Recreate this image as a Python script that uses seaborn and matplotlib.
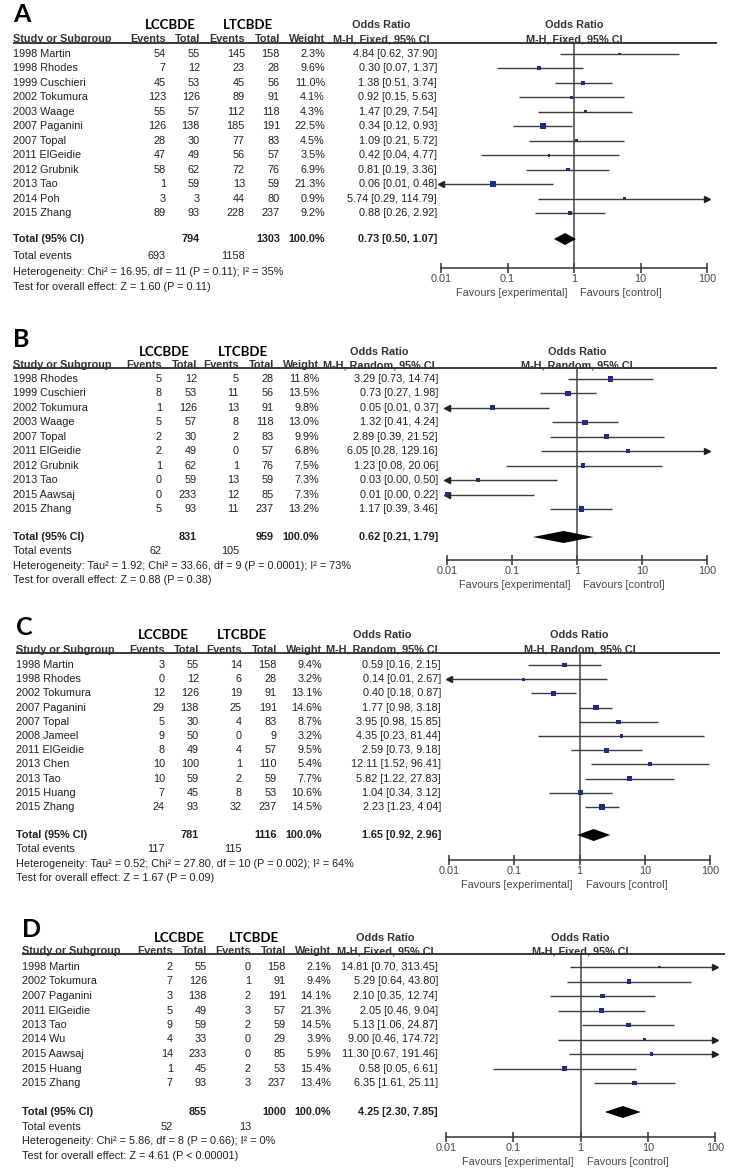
"""Four-panel forest plot (LCCBDE vs LTCBDE)."""
import numpy as np
import matplotlib
matplotlib.use("Agg")
import matplotlib.pyplot as plt
import seaborn as sns

# ---------------- Panel A : M-H, Fixed ----------------
studies_a = ["1998 Martin", "1998 Rhodes", "1999 Cuschieri", "2002 Tokumura", "2003 Waage",
             "2007 Paganini", "2007 Topal", "2011 ElGeidie", "2012 Grubnik", "2013 Tao",
             "2014 Poh", "2015 Zhang"]
ev1_a = [54, 7, 45, 123, 55, 126, 28, 47, 58, 1, 3, 89]
tot1_a = [55, 12, 53, 126, 57, 138, 30, 49, 62, 59, 3, 93]
ev2_a = [145, 23, 45, 89, 112, 185, 77, 56, 72, 13, 44, 228]
tot2_a = [158, 28, 56, 91, 118, 191, 83, 57, 76, 59, 80, 237]
weight_a = [2.3, 9.6, 11.0, 4.1, 4.3, 22.5, 4.5, 3.5, 6.9, 21.3, 0.9, 9.2]
or_a = [4.84, 0.30, 1.38, 0.92, 1.47, 0.34, 1.09, 0.42, 0.81, 0.06, 5.74, 0.88]
lo_a = [0.62, 0.07, 0.51, 0.15, 0.29, 0.12, 0.21, 0.04, 0.19, 0.01, 0.29, 0.26]
hi_a = [37.90, 1.37, 3.74, 5.63, 7.54, 0.93, 5.72, 4.77, 3.36, 0.48, 114.79, 2.92]
totals_a = [794, 1303]
events_a = [693, 1158]
pooled_a = [0.73, 0.50, 1.07]
het_a = "Heterogeneity: Chi² = 16.95, df = 11 (P = 0.11); I² = 35%"
test_a = "Test for overall effect: Z = 1.60 (P = 0.11)"

# ---------------- Panel B : M-H, Random ----------------
studies_b = ["1998 Rhodes", "1999 Cuschieri", "2002 Tokumura", "2003 Waage", "2007 Topal",
             "2011 ElGeidie", "2012 Grubnik", "2013 Tao", "2015 Aawsaj", "2015 Zhang"]
ev1_b = [5, 8, 1, 5, 2, 2, 1, 0, 0, 5]
tot1_b = [12, 53, 126, 57, 30, 49, 62, 59, 233, 93]
ev2_b = [5, 11, 13, 8, 2, 0, 1, 13, 12, 11]
tot2_b = [28, 56, 91, 118, 83, 57, 76, 59, 85, 237]
weight_b = [11.8, 13.5, 9.8, 13.0, 9.9, 6.8, 7.5, 7.3, 7.3, 13.2]
or_b = [3.29, 0.73, 0.05, 1.32, 2.89, 6.05, 1.23, 0.03, 0.01, 1.17]
lo_b = [0.73, 0.27, 0.01, 0.41, 0.39, 0.28, 0.08, 0.00, 0.00, 0.39]
hi_b = [14.74, 1.98, 0.37, 4.24, 21.52, 129.16, 20.06, 0.50, 0.22, 3.46]
totals_b = [831, 959]
events_b = [62, 105]
pooled_b = [0.62, 0.21, 1.79]
het_b = "Heterogeneity: Tau² = 1.92; Chi² = 33.66, df = 9 (P = 0.0001); I² = 73%"
test_b = "Test for overall effect: Z = 0.88 (P = 0.38)"

# ---------------- Panel C : M-H, Random ----------------
studies_c = ["1998 Martin", "1998 Rhodes", "2002 Tokumura", "2007 Paganini", "2007 Topal",
             "2008 Jameel", "2011 ElGeidie", "2013 Chen", "2013 Tao", "2015 Huang", "2015 Zhang"]
ev1_c = [3, 0, 12, 29, 5, 9, 8, 10, 10, 7, 24]
tot1_c = [55, 12, 126, 138, 30, 50, 49, 100, 59, 45, 93]
ev2_c = [14, 6, 19, 25, 4, 0, 4, 1, 2, 8, 32]
tot2_c = [158, 28, 91, 191, 83, 9, 57, 110, 59, 53, 237]
weight_c = [9.4, 3.2, 13.1, 14.6, 8.7, 3.2, 9.5, 5.4, 7.7, 10.6, 14.5]
or_c = [0.59, 0.14, 0.40, 1.77, 3.95, 4.35, 2.59, 12.11, 5.82, 1.04, 2.23]
lo_c = [0.16, 0.01, 0.18, 0.98, 0.98, 0.23, 0.73, 1.52, 1.22, 0.34, 1.23]
hi_c = [2.15, 2.67, 0.87, 3.18, 15.85, 81.44, 9.18, 96.41, 27.83, 3.12, 4.04]
totals_c = [781, 1116]
events_c = [117, 115]
pooled_c = [1.65, 0.92, 2.96]
het_c = "Heterogeneity: Tau² = 0.52; Chi² = 27.80, df = 10 (P = 0.002); I² = 64%"
test_c = "Test for overall effect: Z = 1.67 (P = 0.09)"

# ---------------- Panel D : M-H, Fixed ----------------
studies_d = ["1998 Martin", "2002 Tokumura", "2007 Paganini", "2011 ElGeidie", "2013 Tao",
             "2014 Wu", "2015 Aawsaj", "2015 Huang", "2015 Zhang"]
ev1_d = [2, 7, 3, 5, 9, 4, 14, 1, 7]
tot1_d = [55, 126, 138, 49, 59, 33, 233, 45, 93]
ev2_d = [0, 1, 2, 3, 2, 0, 0, 2, 3]
tot2_d = [158, 91, 191, 57, 59, 29, 85, 53, 237]
weight_d = [2.1, 9.4, 14.1, 21.3, 14.5, 3.9, 5.9, 15.4, 13.4]
or_d = [14.81, 5.29, 2.10, 2.05, 5.13, 9.00, 11.30, 0.58, 6.35]
lo_d = [0.70, 0.64, 0.35, 0.46, 1.06, 0.46, 0.67, 0.05, 1.61]
hi_d = [313.45, 43.80, 12.74, 9.04, 24.87, 174.72, 191.46, 6.61, 25.11]
totals_d = [855, 1000]
events_d = [52, 13]
pooled_d = [4.25, 2.30, 7.85]
het_d = "Heterogeneity: Chi² = 5.86, df = 8 (P = 0.66); I² = 0%"
test_d = "Test for overall effect: Z = 4.61 (P < 0.00001)"

tick_vals = [0.01, 0.1, 1, 10, 100]
tick_labels = ["0.01", "0.1", "1", "10", "100"]

sns.set_theme(style="white")
plt.rcParams["font.family"] = ["Liberation Sans", "DejaVu Sans"]

W, H = 729, 1171
TXT = "#202020"
HDR = "#333333"
GREY = "#474747"
NAVY = "#1e2d82"
FS = 7.8

fig = plt.figure(figsize=(W / 100, H / 100), dpi=100)
canvas = fig.add_axes([0, 0, 1, 1])
canvas.set_xlim(0, W)
canvas.set_ylim(H, 0)
canvas.axis("off")


def draw_panel(label, method, studies, ev1, tot1, ev2, tot2, weight, ors, los, his,
               totals, events, pooled, het, test, lay):
    nx = lay["name_x"]
    cols = lay["cols"]
    x0, x1 = lay["forest"]
    xmid = (x0 + x1) / 2

    # headers
    canvas.text(nx, lay["letter_y"], label, fontsize=18, fontweight="bold",
                family=["Lato", "DejaVu Sans"], va="baseline", color="black")
    canvas.text(lay["grp"][0], lay["grp_y"], "LCCBDE", fontsize=9.5, fontweight="bold",
                family=["Lato", "DejaVu Sans"], ha="center", va="center", color="black")
    canvas.text(lay["grp"][1], lay["grp_y"], "LTCBDE", fontsize=9.5, fontweight="bold",
                family=["Lato", "DejaVu Sans"], ha="center", va="center", color="black")
    for xx in (lay["or_hdr"], xmid):
        canvas.text(xx, lay["grp_y"], "Odds Ratio", fontsize=FS, fontweight="bold",
                    ha="center", va="center", color=HDR)
        canvas.text(xx, lay["hdr_y"], method, fontsize=FS, fontweight="bold",
                    ha="center", va="center", color=HDR)
    canvas.text(nx, lay["hdr_y"], "Study or Subgroup", fontsize=FS, fontweight="bold",
                va="center", color=HDR)
    for xx, t in zip(cols, ["Events", "Total", "Events", "Total", "Weight"]):
        canvas.text(xx, lay["hdr_y"], t, fontsize=FS, fontweight="bold",
                    ha="right", va="center", color=HDR)
    canvas.plot(lay["line_x"], [lay["line_y"]] * 2, color="#3a3a3a", lw=1.4,
                solid_capstyle="butt")

    # study rows
    ys = lay["first"] + np.arange(len(studies)) * lay["sp"]
    for i, y in enumerate(ys):
        canvas.text(nx, y, studies[i], fontsize=FS, va="center", color=TXT)
        vals = [ev1[i], tot1[i], ev2[i], tot2[i], f"{weight[i]:.1f}%"]
        for xx, v in zip(cols, vals):
            canvas.text(xx, y, str(v), fontsize=FS, ha="right", va="center", color=TXT)
        canvas.text(lay["or_end"], y, f"{ors[i]:.2f} [{los[i]:.2f}, {his[i]:.2f}]",
                    fontsize=FS, ha="right", va="center", color=TXT)

    # total + footer
    ty = lay["total"]
    canvas.text(nx, ty, "Total (95% CI)", fontsize=FS, fontweight="bold", va="center", color=TXT)
    canvas.text(cols[1], ty, str(totals[0]), fontsize=FS, fontweight="bold", ha="right",
                va="center", color=TXT)
    canvas.text(cols[3], ty, str(totals[1]), fontsize=FS, fontweight="bold", ha="right",
                va="center", color=TXT)
    canvas.text(cols[4], ty, "100.0%", fontsize=FS, fontweight="bold", ha="right",
                va="center", color=TXT)
    canvas.text(lay["or_end"], ty, f"{pooled[0]:.2f} [{pooled[1]:.2f}, {pooled[2]:.2f}]",
                fontsize=FS, fontweight="bold", ha="right", va="center", color=TXT)
    fy = lay["foot"]
    canvas.text(nx, fy[0], "Total events", fontsize=FS, va="center", color=TXT)
    canvas.text(cols[0], fy[0], str(events[0]), fontsize=FS, ha="right", va="center", color=TXT)
    canvas.text(cols[2], fy[0], str(events[1]), fontsize=FS, ha="right", va="center", color=TXT)
    canvas.text(nx, fy[1], het, fontsize=FS, va="center", color=TXT)
    canvas.text(nx, fy[2], test, fontsize=FS, va="center", color=TXT)

    # forest axes
    axy = lay["axis"]
    ax = fig.add_axes([x0 / W, 1 - axy / H, (x1 - x0) / W, (axy - lay["line_y"]) / H])
    ax.set_xscale("log")
    ax.set_xlim(0.01, 100)
    ax.set_ylim(axy, lay["line_y"])
    ax.patch.set_alpha(0)
    for s in ["top", "right", "left"]:
        ax.spines[s].set_visible(False)
    ax.spines["bottom"].set_color("#333333")
    ax.spines["bottom"].set_linewidth(1.1)
    ax.set_xticks(tick_vals)
    ax.set_xticklabels(tick_labels)
    ax.minorticks_off()
    ax.tick_params(axis="x", bottom=True, direction="inout", length=7, width=1.1,
                   color="#333333", labelcolor=GREY, labelsize=FS, pad=1)
    ax.set_yticks([])
    ax.grid(False)
    ax.axvline(1, color="#444444", lw=1.1, zorder=1)

    for i, y in enumerate(ys):
        lo_v = max(los[i], 0.01)
        hi_v = min(his[i], 100)
        ax.plot([lo_v, hi_v], [y, y], color="#3c3c3c", lw=1.0, zorder=2,
                solid_capstyle="butt")
        if los[i] <= 0.01:
            ax.plot(0.01, y, marker="<", ms=4, color="#222222", clip_on=False, zorder=2)
        if his[i] > 100:
            ax.plot(100, y, marker=">", ms=4, color="#222222", clip_on=False, zorder=2)

    sns.scatterplot(x=ors, y=ys, size=weight, sizes=(2, 17), size_norm=(0, max(weight)),
                    marker="s", color=NAVY, linewidth=0, legend=False, ax=ax,
                    zorder=3, clip_on=False)

    dh = 6
    ax.fill([pooled[1], pooled[0], pooled[2], pooled[0]], [ty, ty - dh, ty, ty + dh],
            color="black", lw=0, zorder=3)

    ax.annotate("Favours [experimental]", xy=(1, 0), xycoords=("data", "axes fraction"),
                xytext=(-5, -18), textcoords="offset points", ha="right", va="center",
                fontsize=FS, color=GREY)
    ax.annotate("Favours [control]", xy=(1, 0), xycoords=("data", "axes fraction"),
                xytext=(4.5, -18), textcoords="offset points", ha="left", va="center",
                fontsize=FS, color=GREY)


lay_a = dict(name_x=13, letter_y=22, grp_y=25, grp=(170, 248), hdr_y=39, line_y=43,
             line_x=[13, 717], first=54, sp=14.45, total=239, foot=(256, 272, 287),
             axis=268, cols=[166, 200, 245, 280, 325], or_end=437, or_hdr=381,
             forest=(441, 707))
lay_b = dict(name_x=13, letter_y=347, grp_y=352, grp=(164, 243), hdr_y=365, line_y=368,
             line_x=[13, 717], first=379, sp=14.45, total=537, foot=(551, 566, 580),
             axis=560, cols=[162, 197, 239, 274, 319], or_end=438, or_hdr=379,
             forest=(447, 707))
lay_c = dict(name_x=16, letter_y=635, grp_y=635, grp=(163, 242), hdr_y=650, line_y=653,
             line_x=[16, 720], first=665, sp=14.2, total=835, foot=(849, 864, 878),
             axis=860, cols=[165, 199, 242, 277, 322], or_end=441, or_hdr=382,
             forest=(449, 710))
lay_d = dict(name_x=22, letter_y=937, grp_y=938, grp=(179, 254), hdr_y=951, line_y=954,
             line_x=[22, 725], first=967, sp=14.5, total=1112, foot=(1127, 1141, 1156),
             axis=1137, cols=[173, 207, 251, 286, 331], or_end=438, or_hdr=385,
             forest=(446, 715))

draw_panel("A", "M-H, Fixed, 95% CI", studies_a, ev1_a, tot1_a, ev2_a, tot2_a, weight_a,
           or_a, lo_a, hi_a, totals_a, events_a, pooled_a, het_a, test_a, lay_a)
draw_panel("B", "M-H, Random, 95% CI", studies_b, ev1_b, tot1_b, ev2_b, tot2_b, weight_b,
           or_b, lo_b, hi_b, totals_b, events_b, pooled_b, het_b, test_b, lay_b)
draw_panel("C", "M-H, Random, 95% CI", studies_c, ev1_c, tot1_c, ev2_c, tot2_c, weight_c,
           or_c, lo_c, hi_c, totals_c, events_c, pooled_c, het_c, test_c, lay_c)
draw_panel("D", "M-H, Fixed, 95% CI", studies_d, ev1_d, tot1_d, ev2_d, tot2_d, weight_d,
           or_d, lo_d, hi_d, totals_d, events_d, pooled_d, het_d, test_d, lay_d)

fig.savefig("out.png", dpi=100)
